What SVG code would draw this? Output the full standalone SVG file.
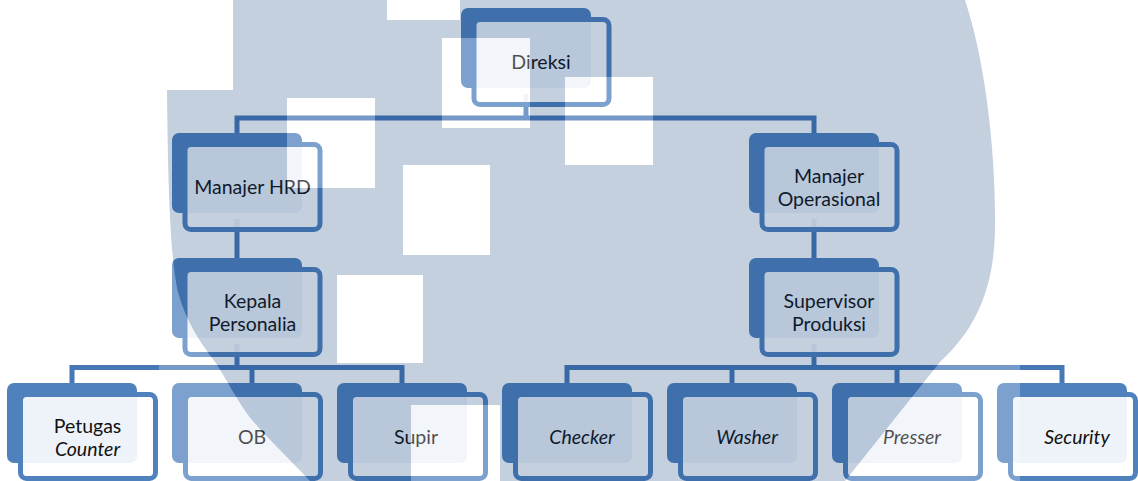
<svg xmlns="http://www.w3.org/2000/svg" width="1138" height="481" viewBox="0 0 1138 481">
  <style>
    .back { fill: #4f81bd; }
    .front { fill: #ffffff; fill-opacity: 0.9; stroke: #4f81bd; stroke-width: 5; }
    .conn { fill: none; stroke: #4677b6; stroke-width: 5; stroke-linejoin: miter; }
    .lbl { font-family: Lato, "Open Sans", sans-serif; font-size: 19.5px; fill: #111111; text-anchor: middle; }
    .it { font-style: italic; }
  </style>
  <defs>
    <path id="blob" d="M167,0 L965,0 C985,60 996,150 995,230 C994,290 975,330 940,362 L845,481 L310,481 C280,450 258,428 248,415 C232,392 224,375 215,362 C200,342 186,322 178,292 C171,262 168,200 167,93 Z"/>
    <g id="holes">
      <rect x="150" y="0" width="83" height="90"/>
      <rect x="387" y="0" width="73" height="20"/>
      <rect x="287" y="98" width="88" height="90"/>
      <rect x="442" y="38" width="88" height="90"/>
      <rect x="565" y="77" width="88" height="88"/>
      <rect x="403" y="165" width="87" height="90"/>
      <rect x="337" y="275" width="86" height="88"/>
      <rect x="411" y="405" width="89" height="76"/>
    </g>
    <mask id="blobMask" maskUnits="userSpaceOnUse" x="0" y="0" width="1138" height="481">
      <use href="#blob" fill="#fff"/>
      <use href="#holes" fill="#000"/>
    </mask>
    <mask id="restMask" maskUnits="userSpaceOnUse" x="0" y="0" width="1138" height="481">
      <rect x="159" y="0" width="861" height="481" fill="#fff"/>
      <use href="#blob" fill="#000"/>
      <use href="#holes" fill="#fff"/>
    </mask>
  </defs>

  <rect x="0" y="0" width="1138" height="481" fill="#ffffff"/>

  <g id="connectors">
    <path class="conn" d="M526,94 V118"/>
    <path class="conn" d="M237,133 V118 H814 V133"/>
    <path class="conn" d="M237,219 V258"/>
    <path class="conn" d="M814,219 V258"/>
    <path class="conn" d="M237,344 V367.5"/>
    <path class="conn" d="M72,383 V367.5 H402 V383"/>
    <path class="conn" d="M252,367.5 V383"/>
    <path class="conn" d="M814,344 V367.5"/>
    <path class="conn" d="M567,383 V367.5 H1062 V383"/>
    <path class="conn" d="M732,367.5 V383"/>
    <path class="conn" d="M897,367.5 V383"/>
  </g>

  <g id="node-direksi">
    <rect class="back" x="461" y="8" width="130" height="80" rx="7"/>
    <rect class="front" x="474" y="19.5" width="135" height="85" rx="6"/>
    <text class="lbl" x="541" y="69">Direksi</text>
  </g>

  <g id="node-manajer-hrd">
    <rect class="back" x="172" y="133" width="130" height="80" rx="7"/>
    <rect class="front" x="185" y="144.5" width="135" height="85" rx="6"/>
    <text class="lbl" x="252.5" y="194">Manajer HRD</text>
  </g>

  <g id="node-manajer-operasional">
    <rect class="back" x="749" y="133" width="130" height="80" rx="7"/>
    <rect class="front" x="762" y="144.5" width="135" height="85" rx="6"/>
    <text class="lbl" x="829" y="183">Manajer</text>
    <text class="lbl" x="829" y="205.5">Operasional</text>
  </g>

  <g id="node-kepala-personalia">
    <rect class="back" x="172" y="258" width="130" height="80" rx="7"/>
    <rect class="front" x="185" y="269.5" width="135" height="85" rx="6"/>
    <text class="lbl" x="252.5" y="308">Kepala</text>
    <text class="lbl" x="252.5" y="330.5">Personalia</text>
  </g>

  <g id="node-supervisor-produksi">
    <rect class="back" x="749" y="258" width="130" height="80" rx="7"/>
    <rect class="front" x="762" y="269.5" width="135" height="85" rx="6"/>
    <text class="lbl" x="829" y="308">Supervisor</text>
    <text class="lbl" x="829" y="330.5">Produksi</text>
  </g>

  <g id="node-petugas-counter">
    <rect class="back" x="7" y="383" width="130" height="80" rx="7"/>
    <rect class="front" x="20.5" y="394.5" width="135" height="84" rx="6"/>
    <text class="lbl" x="87.5" y="433">Petugas</text>
    <text class="lbl it" x="87.5" y="455.5">Counter</text>
  </g>

  <g id="node-ob">
    <rect class="back" x="172" y="383" width="130" height="80" rx="7"/>
    <rect class="front" x="185.5" y="394.5" width="135" height="84" rx="6"/>
    <text class="lbl" x="252" y="444">OB</text>
  </g>

  <g id="node-supir">
    <rect class="back" x="337" y="383" width="130" height="80" rx="7"/>
    <rect class="front" x="350.5" y="394.5" width="135" height="84" rx="6"/>
    <text class="lbl" x="416" y="444">Supir</text>
  </g>

  <g id="node-checker">
    <rect class="back" x="502" y="383" width="130" height="80" rx="7"/>
    <rect class="front" x="515.5" y="394.5" width="135" height="84" rx="6"/>
    <text class="lbl it" x="582" y="444">Checker</text>
  </g>

  <g id="node-washer">
    <rect class="back" x="667" y="383" width="130" height="80" rx="7"/>
    <rect class="front" x="680.5" y="394.5" width="135" height="84" rx="6"/>
    <text class="lbl it" x="747" y="444">Washer</text>
  </g>

  <g id="node-presser">
    <rect class="back" x="832" y="383" width="130" height="80" rx="7"/>
    <rect class="front" x="845.5" y="394.5" width="135" height="84" rx="6"/>
    <text class="lbl it" x="912" y="444">Presser</text>
  </g>

  <g id="node-security">
    <rect class="back" x="997" y="383" width="130" height="80" rx="7"/>
    <rect class="front" x="1010.5" y="394.5" width="125" height="84" rx="6"/>
    <text class="lbl it" x="1077" y="444">Security</text>
  </g>

  <g id="watermark">
    <rect x="0" y="0" width="1138" height="481" fill="#0b3a73" fill-opacity="0.24" mask="url(#blobMask)"/>
    <rect x="0" y="0" width="1138" height="481" fill="#ffffff" fill-opacity="0.26" mask="url(#restMask)"/>
  </g>
</svg>
